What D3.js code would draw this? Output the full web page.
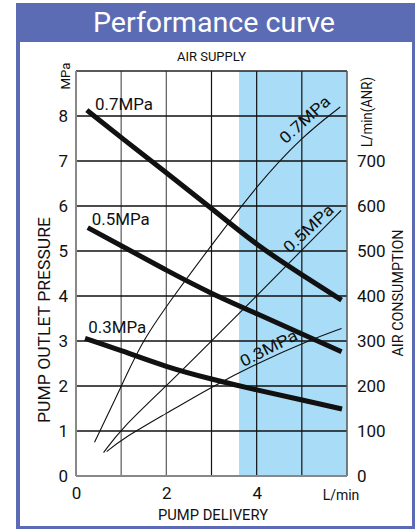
<!DOCTYPE html>
<html><head><meta charset="utf-8">
<script src="https://cdn.jsdelivr.net/npm/d3@7"></script>
<style>
html,body{margin:0;padding:0;background:#fff;}
text{font-family:Roboto,"Noto Sans",sans-serif;}
</style></head>
<body><svg id="c" width="420" height="532"></svg>
<script>
// ---- data ----
const title = "Performance curve";
const pressureSeries = ["0.7MPa", "0.5MPa", "0.3MPa"];
// pump outlet pressure (MPa) vs pump delivery (L/min)
const outlet07 = [[0.24,8.13],[1,7.52],[2,6.74],[3,5.95],[4,5.13],[5,4.47],[5.88,3.91]];
const outlet05 = [[0.26,5.52],[1,5.12],[2,4.57],[3,4.05],[4,3.61],[5,3.16],[5.88,2.76]];
const outlet03 = [[0.2,3.06],[1,2.79],[2,2.42],[3,2.15],[4,1.91],[5,1.69],[5.89,1.49]];
// air consumption (L/min ANR) vs pump delivery (L/min)
const air07 = [[0.41,75],[1,198],[1.46,300],[2.2,405],[3,513],[4,645],[5,754],[5.85,820]];
const air05 = [[0.61,52],[1,105],[2,200],[3,300],[4,400],[5,502],[5.87,590]];
const air03 = [[0.68,54],[1,81],[2,139],[3,198],[4,250],[5.12,300],[5.88,328]];
const xTicks = [0, 2, 4];
const leftTicks = [0,1,2,3,4,5,6,7,8];
const rightTicks = [0,100,200,300,400,500,600,700];
const bandRange = [3.61, 6]; // recommended range (shaded)

// ---- layout ----
const svg = d3.select("#c");
const blue = "#5b6cb4", light = "#a9ddf7";
const x = d3.scaleLinear().domain([0,6]).range([76,347]);
const y = d3.scaleLinear().domain([0,9]).range([476,71]);
const yr = d3.scaleLinear().domain([0,900]).range([476,71]);

// frame
svg.append("rect").attr("x",16).attr("y",3).attr("width",399).attr("height",526).attr("fill",blue);
svg.append("rect").attr("x",20).attr("y",42).attr("width",392).attr("height",484).attr("fill","#fff");
svg.append("text").attr("x",214).attr("y",32).attr("text-anchor","middle")
  .attr("fill","#fff").attr("font-size",28).attr("textLength",242).attr("lengthAdjust","spacingAndGlyphs").text(title);

// band
svg.append("rect").attr("x",x(bandRange[0])).attr("y",y(9))
  .attr("width",x(bandRange[1])-x(bandRange[0])).attr("height",y(0)-y(9)).attr("fill",light);

// grid
const g = svg.append("g");
[1,2].forEach(v=>g.append("line").attr("x1",x(v)).attr("x2",x(v)).attr("y1",y(0)).attr("y2",y(9)).attr("stroke","#666").attr("stroke-width",1.3));
[3,4,5].forEach(v=>g.append("line").attr("x1",x(v)).attr("x2",x(v)).attr("y1",y(0)).attr("y2",y(9)).attr("stroke","#111").attr("stroke-width",1.2));
d3.range(1,9).forEach(v=>g.append("line").attr("x1",x(0)).attr("x2",x(6)).attr("y1",y(v)).attr("y2",y(v)).attr("stroke","#111").attr("stroke-width",1.3));
g.append("line").attr("x1",x(0)).attr("x2",x(6)).attr("y1",y(9)).attr("y2",y(9)).attr("stroke","#222").attr("stroke-width",1.3);
g.append("line").attr("x1",x(6)).attr("x2",x(6)).attr("y1",y(0)).attr("y2",y(9)).attr("stroke","#555").attr("stroke-width",1.5);
g.append("line").attr("x1",x(0)).attr("x2",x(0)).attr("y1",y(0)).attr("y2",y(9)).attr("stroke","#888").attr("stroke-width",2);
g.append("line").attr("x1",x(0)).attr("x2",x(6)).attr("y1",y(0)).attr("y2",y(0)).attr("stroke","#888").attr("stroke-width",2);

// axes (text only)
const tf = 17;
const leftAxis = d3.axisLeft(y).tickValues(leftTicks).tickSize(0).tickPadding(8).tickFormat(d3.format("d"));
const la = svg.append("g").attr("transform",`translate(${x(0)},0)`).call(leftAxis);
const rightAxis = d3.axisRight(yr).tickValues(rightTicks).tickSize(0).tickPadding(10).tickFormat(d3.format("d"));
const ra = svg.append("g").attr("transform",`translate(${x(6)},0)`).call(rightAxis);
const bottomAxis = d3.axisBottom(x).tickValues(xTicks).tickSize(0).tickPadding(11).tickFormat(d3.format("d"));
const ba = svg.append("g").attr("transform",`translate(0,${y(0)})`).call(bottomAxis);
[la,ra,ba].forEach(a=>{a.select(".domain").remove();a.selectAll("text").attr("font-size",tf).attr("font-family","Roboto").attr("fill","#111");});

svg.append("text").attr("x",341).attr("y",500).attr("text-anchor","middle").attr("font-size",14).attr("fill","#111").text("L/min");
svg.append("text").attr("x",213).attr("y",520).attr("text-anchor","middle").attr("font-size",15)
  .attr("textLength",110).attr("lengthAdjust","spacingAndGlyphs").attr("fill","#111").text("PUMP DELIVERY");
svg.append("text").attr("x",211.5).attr("y",61).attr("text-anchor","middle").attr("font-size",12.5)
  .attr("textLength",69).attr("lengthAdjust","spacingAndGlyphs").attr("fill","#111").text("AIR SUPPLY");
svg.append("text").attr("transform","translate(70,76) rotate(-90)").attr("text-anchor","middle")
  .attr("font-size",13).attr("textLength",27).attr("lengthAdjust","spacingAndGlyphs").attr("fill","#111").text("MPa");
svg.append("text").attr("transform","translate(372,112) rotate(-90)").attr("text-anchor","middle")
  .attr("font-size",14).attr("textLength",70).attr("lengthAdjust","spacingAndGlyphs").attr("fill","#111").text("L/min(ANR)");
svg.append("text").attr("transform","translate(50,320) rotate(-90)").attr("text-anchor","middle")
  .attr("font-size",17).attr("textLength",206).attr("lengthAdjust","spacingAndGlyphs").attr("fill","#111").text("PUMP OUTLET PRESSURE");
svg.append("text").attr("transform","translate(403,293) rotate(-90)").attr("text-anchor","middle")
  .attr("font-size",15).attr("textLength",127).attr("lengthAdjust","spacingAndGlyphs").attr("fill","#111").text("AIR CONSUMPTION");

// curves
const lineL = d3.line().x(d=>x(d[0])).y(d=>y(d[1])).curve(d3.curveBasis);
const lineR = d3.line().x(d=>x(d[0])).y(d=>yr(d[1])).curve(d3.curveBasis);
[air07,air05,air03].forEach(s=>svg.append("path").attr("d",lineR(s)).attr("fill","none").attr("stroke","#111").attr("stroke-width",1.1));
[outlet07,outlet05,outlet03].forEach(s=>svg.append("path").attr("d",lineL(s)).attr("fill","none").attr("stroke","#111").attr("stroke-width",5));

// thick-curve labels (data positions)
const outletLabelPos = [[0.42,8.13],[0.35,5.58],[0.27,3.18]];
pressureSeries.forEach((t,i)=>svg.append("text").attr("x",x(outletLabelPos[i][0])).attr("y",y(outletLabelPos[i][1]))
  .attr("font-size",17).attr("textLength",58).attr("lengthAdjust","spacingAndGlyphs").attr("fill","#111").text(t));
// thin-curve labels (data positions + angle)
const airLabelPos = [[5.15,783,-42],[5.23,541,-43],[4.32,273,-27]];
pressureSeries.forEach((t,i)=>svg.append("text")
  .attr("transform",`translate(${x(airLabelPos[i][0])},${yr(airLabelPos[i][1])}) rotate(${airLabelPos[i][2]})`)
  .attr("text-anchor","middle").attr("font-size",16).attr("textLength",62).attr("lengthAdjust","spacingAndGlyphs")
  .attr("fill","#111").text(t));
</script></body></html>
